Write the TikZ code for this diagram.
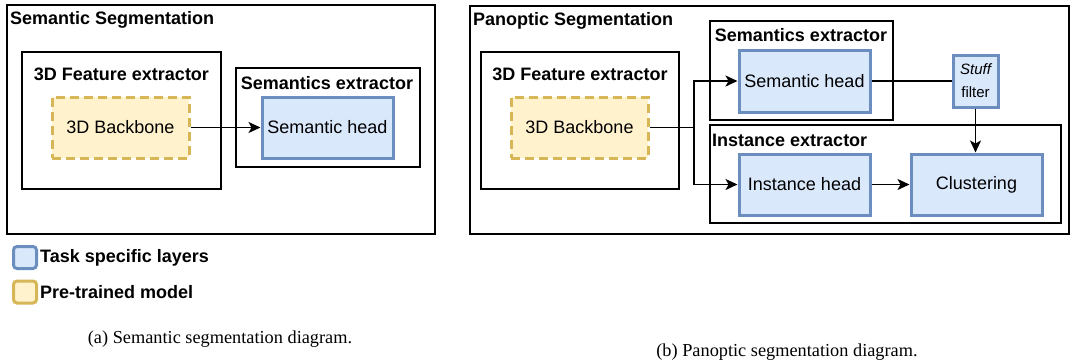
\documentclass[tikz,border=0pt]{standalone}
\usepackage{fontspec}
\setmainfont{Liberation Sans}
\newfontfamily\capfont{Liberation Serif}
\usetikzlibrary{arrows.meta}
\definecolor{bstroke}{HTML}{6C8EBF}
\definecolor{bfill}{HTML}{DAE8FC}
\definecolor{ystroke}{HTML}{D6B656}
\definecolor{yfill}{HTML}{FFF2CC}
\tikzset{
  frame/.style={draw=black, line width=1.5pt, inner sep=0pt},
  bluebox/.style={draw=bstroke, fill=bfill, line width=3pt, inner sep=0pt, align=center},
  yellowbox/.style={draw=ystroke, fill=yfill, line width=3pt, dash pattern=on 9pt off 5pt, inner sep=0pt},
  ttl/.style={font=\fontsize{18}{21}\selectfont\bfseries, inner sep=0pt},
  lbl/.style={font=\fontsize{18}{21}\selectfont},
  conn/.style={line width=1.5pt, -{Stealth[length=12pt,width=11pt,inset=3pt]}},
  plain/.style={line width=1.5pt},
  legsq/.style={line width=3pt, rounded corners=3.5pt, minimum width=23pt, minimum height=22pt, inner sep=0pt},
  captxt/.style={font=\capfont\fontsize{18.3}{21}\selectfont, inner sep=0pt}
}
\begin{document}
\begin{tikzpicture}[x=1pt,y=-1pt]
\useasboundingbox (0,0) rectangle (1073,360);
% ---------- Panel (a)
\node[frame, minimum width=428pt, minimum height=229pt] (outerA) at (221,119.5) {};
\node[ttl, anchor=west] (tA) at (10,20) {Semantic Segmentation};
\node[frame, minimum width=199pt, minimum height=137pt] (featA) at (121.5,120.5) {};
\node[ttl] (tfA) at (121.5,74) {3D Feature extractor};
\node[yellowbox, minimum width=137pt, minimum height=61pt, lbl] (bbA) at (120.5,127.5) {3D Backbone};
\node[frame, minimum width=184pt, minimum height=99pt] (semexA) at (328,117.5) {};
\node[ttl] (tsA) at (327,83) {Semantics extractor};
\node[bluebox, minimum width=131pt, minimum height=61pt, lbl] (shA) at (327.5,127.5) {Semantic head};
\draw[conn] (bbA.east) -- (shA.west);
% ---------- Panel (b)
\node[frame, minimum width=599pt, minimum height=228pt] (outerB) at (769.5,120) {};
\node[ttl, anchor=west] (tB) at (473,21) {Panoptic Segmentation};
\node[frame, minimum width=198pt, minimum height=137pt] (featB) at (580,120.5) {};
\node[ttl] (tfB) at (580,74) {3D Feature extractor};
\node[yellowbox, minimum width=137pt, minimum height=61pt, lbl] (bbB) at (579.5,127.5) {3D Backbone};
\node[frame, minimum width=183pt, minimum height=99pt] (semexB) at (801.5,70.5) {};
\node[ttl] (tsB) at (801,35) {Semantics extractor};
\node[bluebox, minimum width=131pt, minimum height=62pt, lbl] (shB) at (804.5,81) {Semantic head};
\node[bluebox, minimum width=45pt, minimum height=52pt, font=\fontsize{15}{23}\selectfont] (stuff) at (975.5,81) {\itshape Stuff\\filter};
\node[frame, minimum width=351pt, minimum height=98pt] (instexB) at (885.5,174) {};
\node[ttl, anchor=west] (tiB) at (712,140) {Instance extractor};
\node[bluebox, minimum width=131pt, minimum height=61pt, lbl] (ihB) at (804.5,184.5) {Instance head};
\node[bluebox, minimum width=131pt, minimum height=61pt, lbl] (clu) at (976.5,184.5) {Clustering};
\coordinate (br) at (694,127.5);
\draw[plain] (bbB.east) -- (br);
\draw[conn] (br) |- (shB.west);
\draw[conn] (br) |- (ihB.west);
\draw[plain] (shB.east) -- (stuff.west);
\draw[conn] (stuff.south) -- (stuff.south |- clu.north);
\draw[conn] (ihB.east) -- (clu.west);
% ---------- Legend
\node[legsq, draw=bstroke, fill=bfill] (lgB) at (25,257.5) {};
\node[ttl, anchor=west] (lgBt) at (40,258) {Task specific layers};
\node[legsq, draw=ystroke, fill=yfill] (lgY) at (25,292) {};
\node[ttl, anchor=west] (lgYt) at (40,292) {Pre-trained model};
% ---------- Captions
\node[captxt] (capA) at (220,339) {(a) Semantic segmentation diagram.};
\node[captxt] (capB) at (787,352) {(b) Panoptic segmentation diagram.};
\end{tikzpicture}
\end{document}
